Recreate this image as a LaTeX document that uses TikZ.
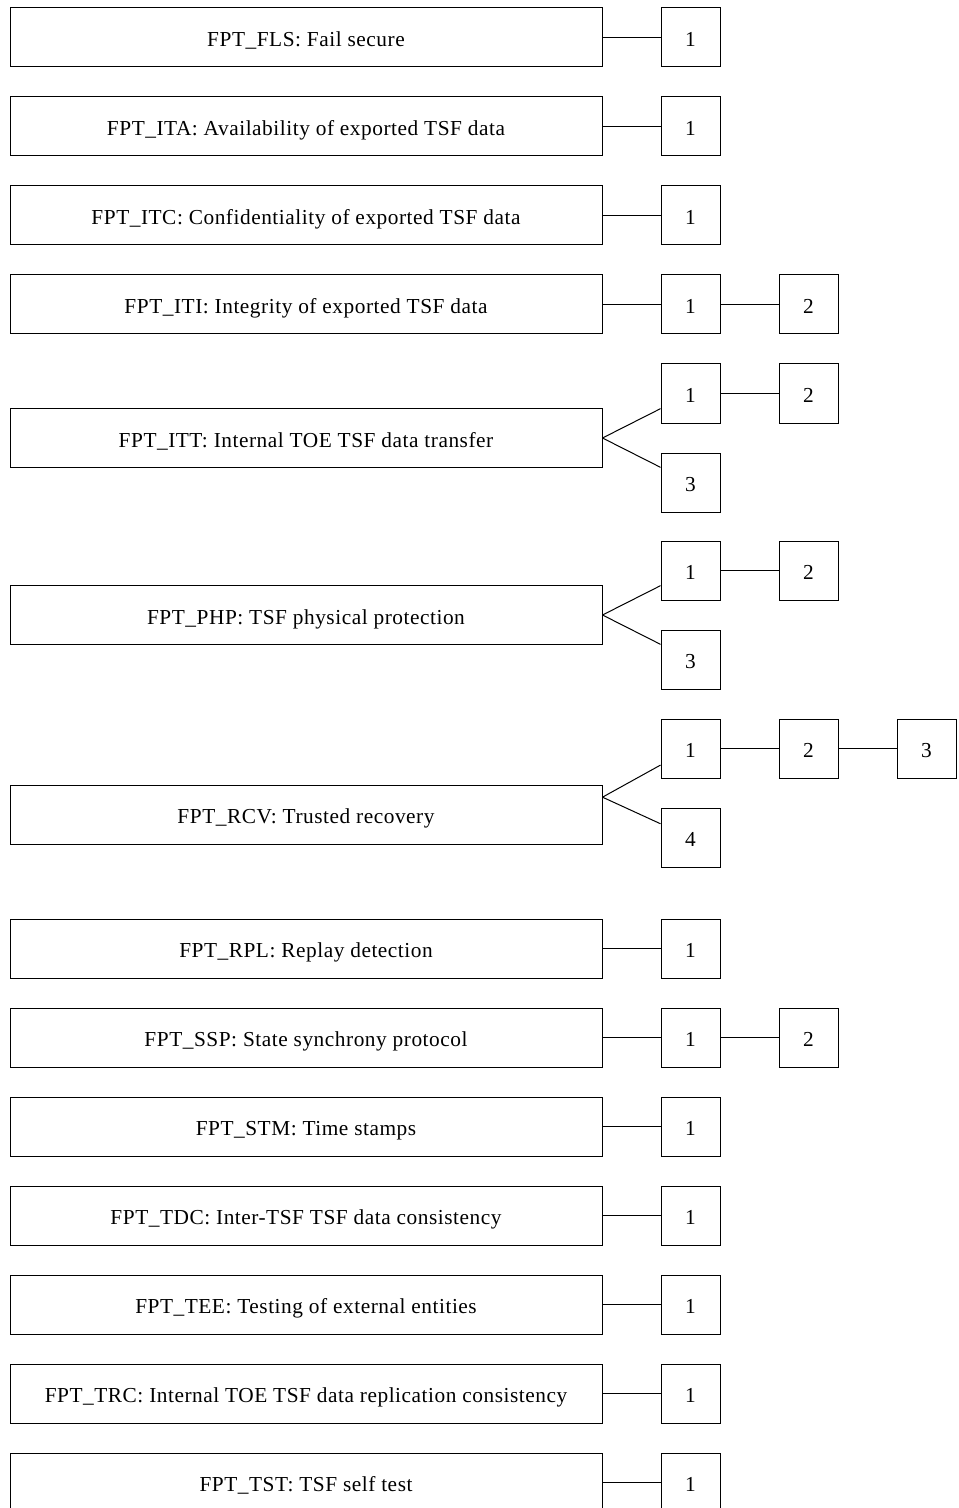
\documentclass[tikz,border=0pt]{standalone}
\usepackage{fontspec}
\setmainfont[LetterSpace=2.5]{Liberation Serif}

\begin{document}
\begin{tikzpicture}[x=0.75pt, y=-0.75pt,
        family/.style={draw, line width=0.75pt, minimum width=444pt, minimum height=44.25pt,
            inner sep=0pt, text height=14pt, text depth=0pt, font=\fontsize{16pt}{19pt}\selectfont},
        component/.style={draw, line width=0.75pt, minimum width=44.25pt, minimum height=44.25pt,
            inner sep=0pt, text height=13.5pt, text depth=0pt, font=\fontsize{16pt}{19pt}\selectfont},
        link/.style={line width=0.75pt}]

        % Frame
        \useasboundingbox (0,0) rectangle (958,1508);

        % Families with a single component
        \foreach \name/\title/\y in {FLS/Fail secure/37.5,
                ITA/Availability of exported TSF data/126.5,
                ITC/Confidentiality of exported TSF data/215.5,
                RPL/Replay detection/948.5,
                STM/Time stamps/1126.5,
                TDC/Inter-TSF TSF data consistency/1215.5,
                TEE/Testing of external entities/1304.5,
                TRC/Internal TOE TSF data replication consistency/1393.5,
                TST/TSF self test/1482.5} {
            \node[family] (\name) at (306,\y) {FPT\_\name: \title};
            \node[component] (\name1) at (690.5,\y) {1};
            \draw[link] (\name) -- (\name1);
        }

        % Families with a chain 1 -- 2
        \foreach \name/\title/\y in {ITI/Integrity of exported TSF data/304.5,
                SSP/State synchrony protocol/1037.5} {
            \node[family] (\name) at (306,\y) {FPT\_\name: \title};
            \node[component] (\name1) at (690.5,\y) {1};
            \node[component] (\name2) at (808.5,\y) {2};
            \draw[link] (\name) -- (\name1);
            \draw[link] (\name1) -- (\name2);
        }

        % Families with two branches
        \foreach \name/\title/\y in {ITT/Internal TOE TSF data transfer/438,
                PHP/TSF physical protection/615} {
            \node[family] (\name) at (306,\y) {FPT\_\name: \title};
            \node[component] (\name1) at (690.5,\y-44.5) {1};
            \node[component] (\name2) at (808.5,\y-44.5) {2};
            \node[component] (\name3) at (690.5,\y+44.5) {3};
            \draw[link] (\name.east) -- (\name1);
            \draw[link] (\name1) -- (\name2);
            \draw[link] (\name.east) -- (\name3);
        }

        % Trusted recovery
        \node[family] (RCV) at (306,814.5) {FPT\_RCV: Trusted recovery};
        \node[component] (RCV1) at (690.5,748.5) {1};
        \node[component] (RCV2) at (808.5,748.5) {2};
        \node[component] (RCV3) at (926.5,748.5) {3};
        \node[component] (RCV4) at (690.5,837.5) {4};
        \coordinate (RCVport) at ([yshift=13pt]RCV.east);
        \draw[link] (RCVport) -- (RCV1);
        \draw[link] (RCV1) -- (RCV2);
        \draw[link] (RCV2) -- (RCV3);
        \draw[link] (RCVport) -- (RCV4);

    \end{tikzpicture}
\end{document}
